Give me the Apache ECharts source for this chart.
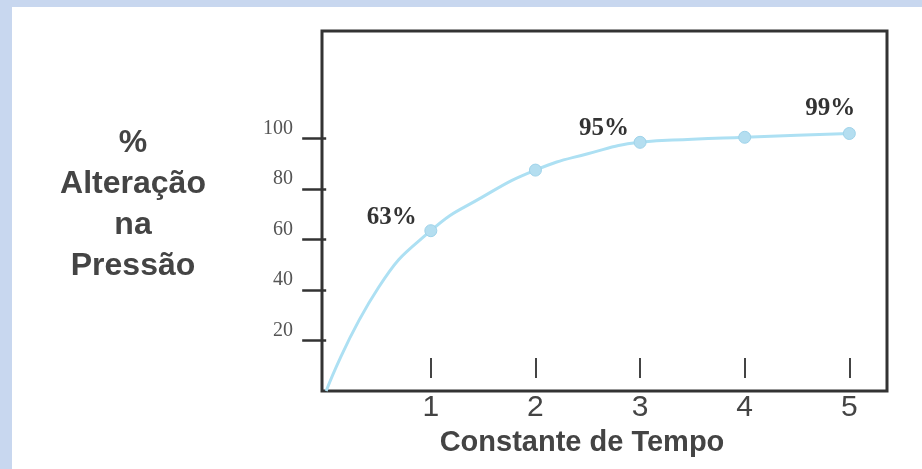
<!DOCTYPE html>
<html>
<head>
    <meta charset="utf-8">
    <title>Constante de Tempo</title>
    <script src="https://cdn.jsdelivr.net/npm/echarts@6/dist/echarts.min.js"></script>
</head>
<body style="margin:0;">
    <div id="chart" style="width: 922px;height:469px;"></div>

    <script>
        // dados
        const tempos = [0, 0.5, 1, 1.5, 2, 2.5, 3, 3.5, 4, 4.5, 5];
        const alteracao = [0, 41, 63.5, 77, 87.5, 94, 98.5, 99.7, 100.5, 101.3, 102];
        const marcados = [1, 2, 3, 4, 5];
        const rotulos = { 1: '63%', 3: '95%', 5: '99%' };
        const rotuloOffset = { 1: [-39, -13], 3: [-36, -14], 5: [-19, -25] };
        const ticksY = [20, 40, 60, 80, 100];
        const ticksX = [1, 2, 3, 4, 5];
        const tituloY = ['%', 'Alteração', 'na', 'Pressão'];

        const chart = echarts.init(document.getElementById('chart'));

        const dados = tempos.map(function (t, i) {
            const item = { value: [t, alteracao[i]] };
            if (marcados.indexOf(t) < 0) {
                item.symbol = 'none';
            }
            if (rotulos[t]) {
                item.label = {
                    show: true,
                    position: 'inside',
                    offset: rotuloOffset[t],
                    formatter: rotulos[t],
                    fontFamily: 'Liberation Serif',
                    fontWeight: 'bold',
                    fontSize: 25,
                    color: '#333'
                };
            }
            return item;
        });

        const option = {
            animation: false,
            backgroundColor: '#fff',
            grid: {
                left: 322, top: 31, right: 35, bottom: 78,
                show: true,
                borderColor: '#333',
                borderWidth: 3
            },
            xAxis: [{
                type: 'value',
                min: -0.04,
                max: 5.36,
                axisLine: { show: false },
                axisTick: { show: false },
                splitLine: { show: false },
                axisLabel: {
                    customValues: ticksX,
                    margin: 2,
                    fontFamily: 'Liberation Sans',
                    fontSize: 30,
                    color: '#444'
                }
            }, {
                type: 'value',
                min: -0.04,
                max: 5.36,
                position: 'bottom',
                offset: -13,
                axisLine: { show: false },
                splitLine: { show: false },
                axisLabel: { show: false },
                axisTick: {
                    show: true,
                    inside: true,
                    length: 20,
                    customValues: ticksX,
                    lineStyle: { color: '#444', width: 2 }
                }
            }],
            yAxis: {
                type: 'value',
                min: 0,
                max: 142.6,
                axisLine: { show: false },
                splitLine: { show: false },
                axisTick: {
                    show: true,
                    length: 24,
                    customValues: ticksY,
                    lineStyle: { color: '#333', width: 2.5 }
                },
                axisLabel: {
                    customValues: ticksY,
                    margin: 29,
                    verticalAlign: 'bottom',
                    fontFamily: 'Liberation Serif',
                    fontSize: 20,
                    color: '#555'
                }
            },
            series: [{
                type: 'line',
                smooth: 0.5,
                data: dados,
                symbol: 'circle',
                symbolSize: 12,
                itemStyle: { color: '#b4def0', borderColor: '#9fd3ea', borderWidth: 1 },
                lineStyle: { color: '#ade0f3', width: 3 }
            }],
            graphic: [
                { type: 'rect', shape: { x: 0, y: 0, width: 12, height: 469 }, style: { fill: '#c8d7ef' } },
                { type: 'rect', shape: { x: 0, y: 0, width: 922, height: 7 }, style: { fill: '#c8d7ef' } },
                {
                    type: 'text',
                    x: 582,
                    y: 443,
                    style: {
                        text: 'Constante de Tempo',
                        textAlign: 'center',
                        textVerticalAlign: 'middle',
                        font: 'bold 29px "Liberation Sans"',
                        fill: '#444'
                    }
                }
            ].concat(tituloY.map(function (linha, i) {
                return {
                    type: 'text',
                    x: 133,
                    y: 143 + i * 41,
                    style: {
                        text: linha,
                        textAlign: 'center',
                        textVerticalAlign: 'middle',
                        font: 'bold 32px "Liberation Sans"',
                        fill: '#444'
                    }
                };
            }))
        };

        chart.setOption(option);
    </script>
</body>
</html>
